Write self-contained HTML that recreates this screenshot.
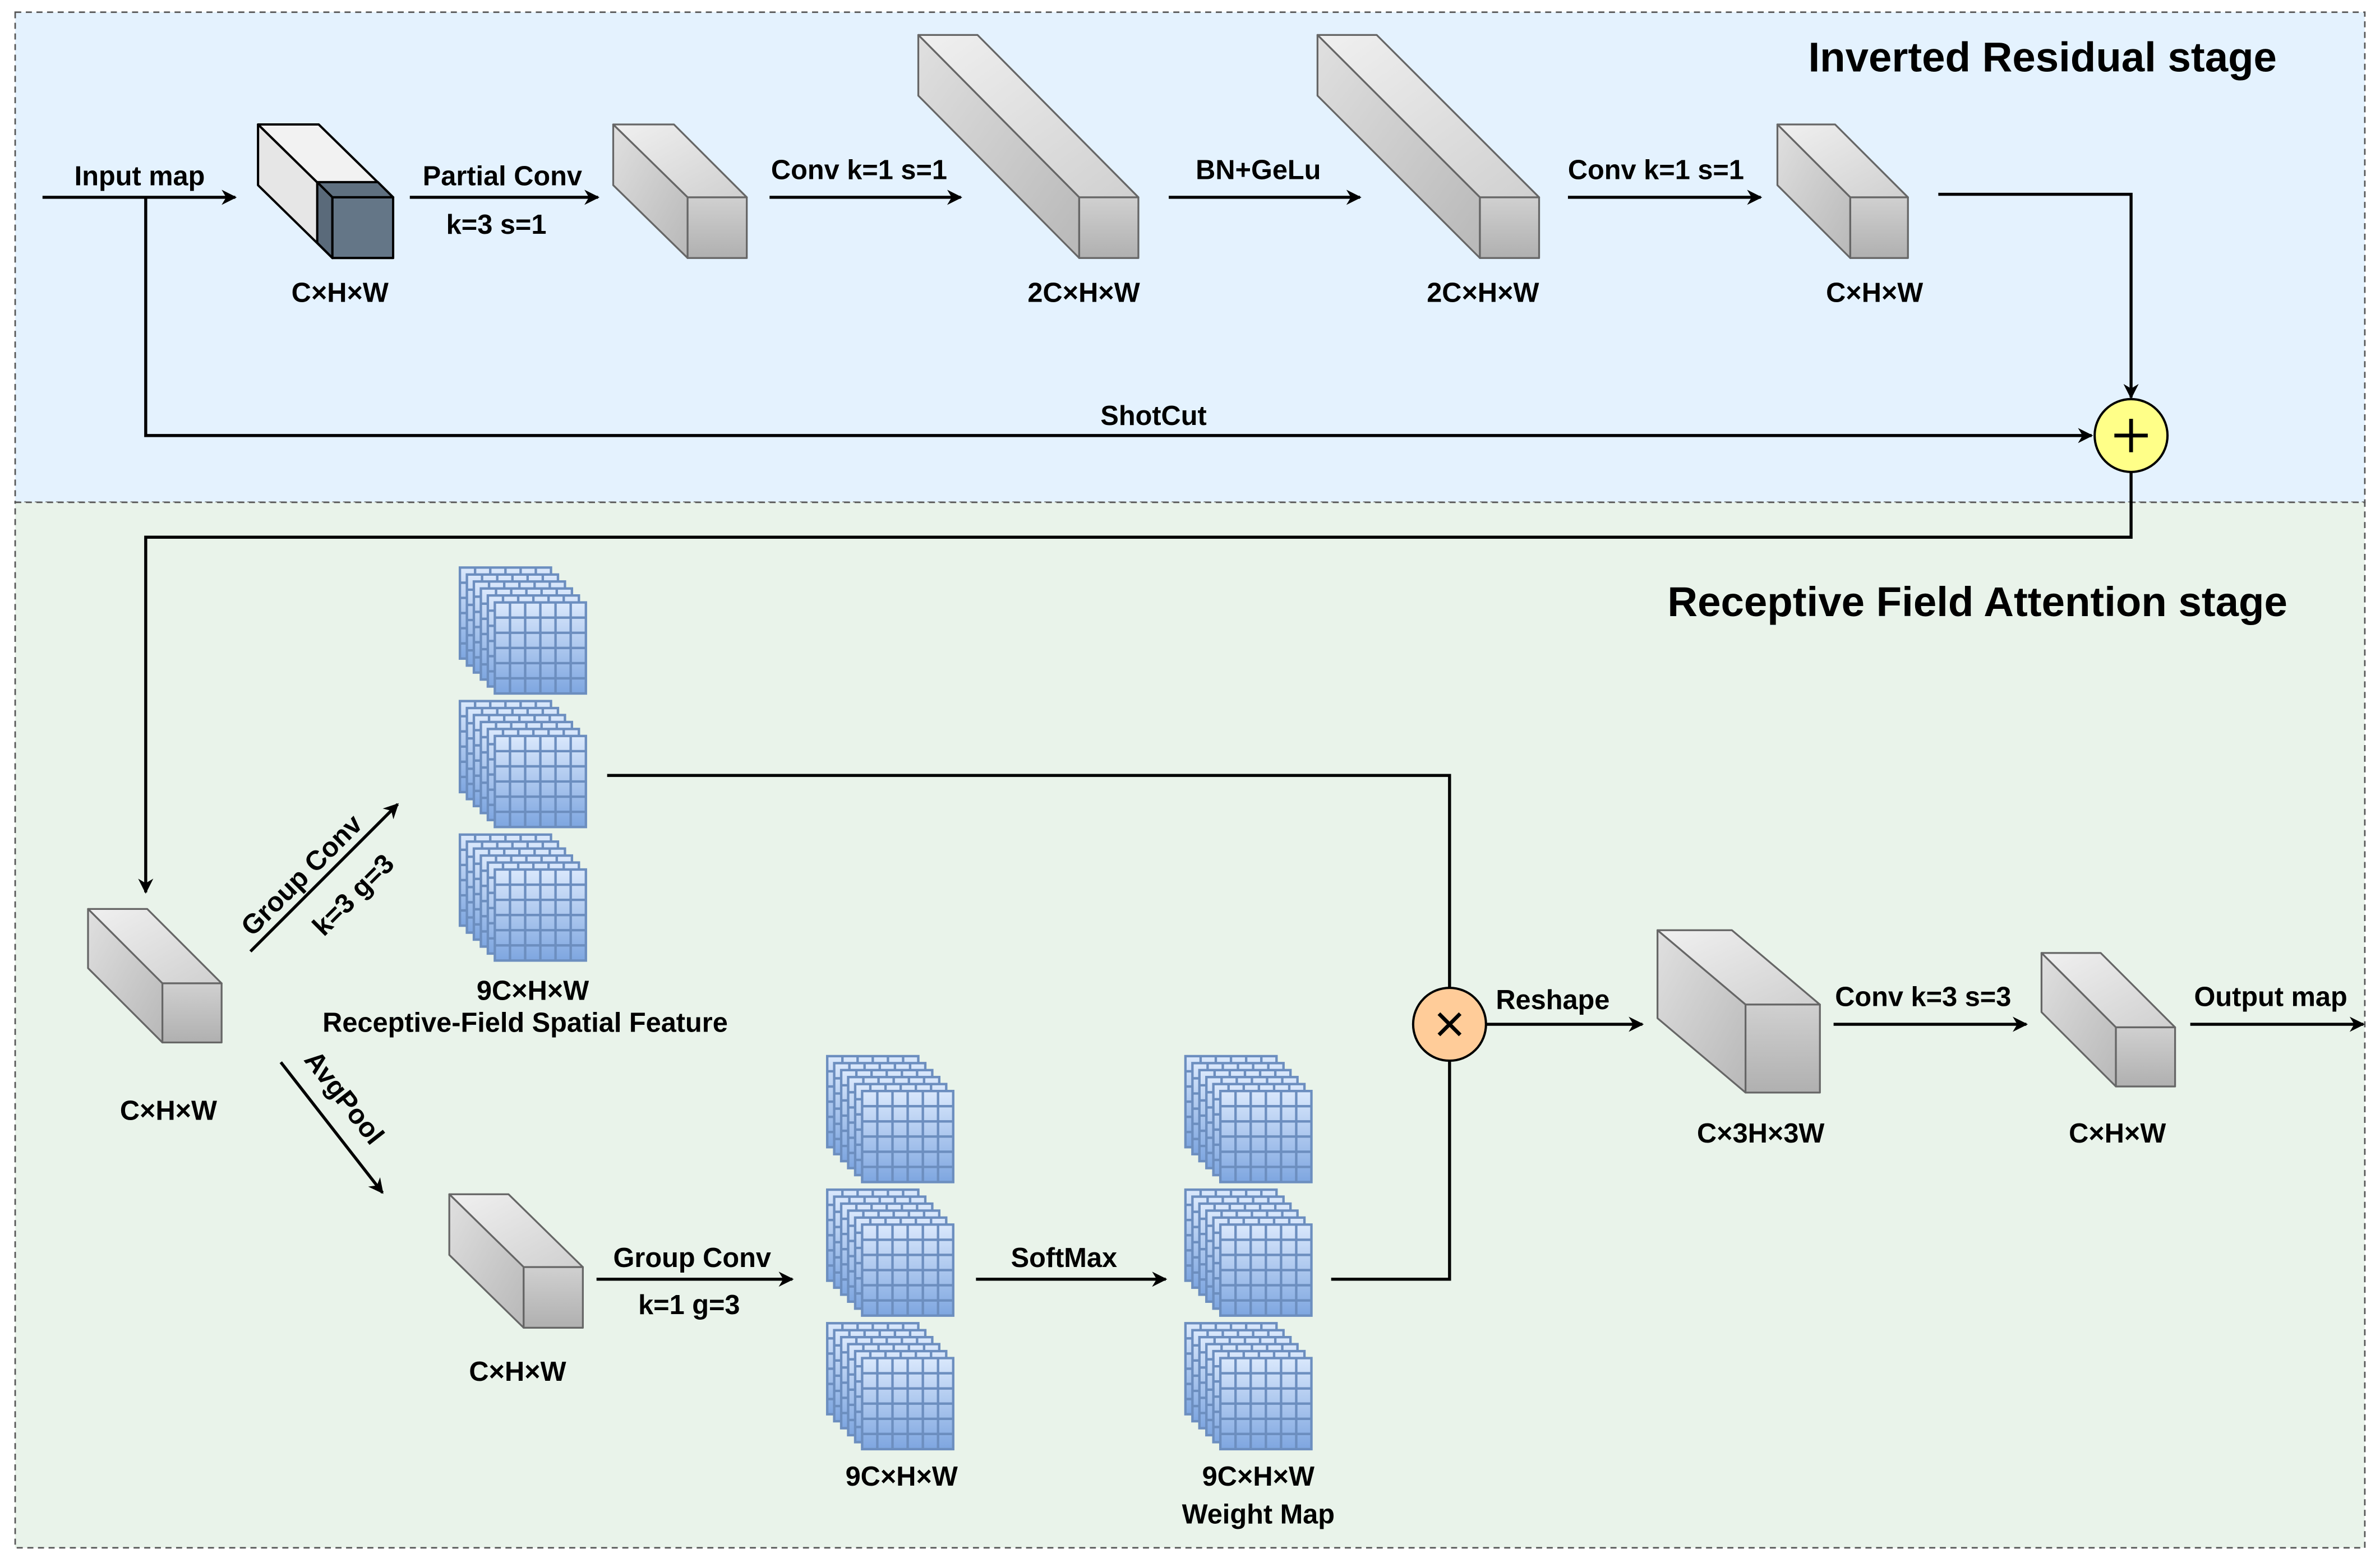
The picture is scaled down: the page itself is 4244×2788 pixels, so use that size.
<!DOCTYPE html>
<html><head><meta charset="utf-8"><style>html,body{margin:0;padding:0;background:#fff}svg{display:block}</style></head>
<body>
<svg xmlns="http://www.w3.org/2000/svg" width="4244" height="2788" viewBox="0 0 1568 1030">
<defs>
<marker id="a" viewBox="0 0 10 10" refX="9" refY="5" markerWidth="10" markerHeight="10" markerUnits="userSpaceOnUse" orient="auto"><path d="M0,0 L10,5 L0,10 L3,5 z" fill="#000"/></marker>
<linearGradient id="gb" x1="0" y1="0" x2="0" y2="1"><stop offset="0" stop-color="#dae8fc"/><stop offset="1" stop-color="#7ea6e0"/></linearGradient>
<linearGradient id="gt" x1="0" y1="0" x2="1" y2="1"><stop offset="0" stop-color="#f0f0f0"/><stop offset="1" stop-color="#d0d0d0"/></linearGradient>
<linearGradient id="gs" x1="0" y1="0" x2="1" y2="1"><stop offset="0" stop-color="#e0e0e0"/><stop offset="1" stop-color="#b8b8b8"/></linearGradient>
<linearGradient id="gf" x1="0" y1="0" x2="0" y2="1"><stop offset="0" stop-color="#d0d0d0"/><stop offset="1" stop-color="#b0b0b0"/></linearGradient>
<g id="L">
<rect x="0" y="0" width="60" height="60" fill="url(#gb)" stroke="#6c8ebf" stroke-width="1.6"/>
<path d="M10,0V60M20,0V60M30,0V60M40,0V60M50,0V60M0,10H60M0,20H60M0,30H60M0,40H60M0,50H60" stroke="#6c8ebf" stroke-width="1.6"/>
</g>
<g id="S">
<use href="#L" x="0" y="0"/><use href="#L" x="4.6" y="4.6"/><use href="#L" x="9.2" y="9.2"/><use href="#L" x="13.8" y="13.8"/><use href="#L" x="18.4" y="18.4"/><use href="#L" x="23" y="23"/>
</g>
</defs>
<rect x="10" y="8" width="1548" height="323" fill="#e4f2fe" stroke="#555" stroke-dasharray="4,3"/>
<rect x="10" y="331" width="1548" height="689" fill="#e9f3ea" stroke="#555" stroke-dasharray="4,3"/>
<g font-family="Liberation Sans, sans-serif" font-weight="bold" fill="#000">
<text x="1500" y="47" font-size="27.5" text-anchor="end">Inverted Residual stage</text>
<text x="1507" y="406" font-size="27.5" text-anchor="end">Receptive Field Attention stage</text>
</g>
<g stroke="#666" stroke-width="1.2" stroke-linejoin="round">
<g stroke="#000" stroke-width="1.5">
<polygon points="170,82 210,82 259,130 219,130" fill="#f2f2f2"/>
<polygon points="170,82 219,130 219,170 170,122" fill="#e6e6e6"/>
<polygon points="209,120 249,120 259,130 219,130" fill="#5f7080"/>
<polygon points="209,120 219,130 219,170 209,160" fill="#5a6a7a"/>
<rect x="219" y="130" width="40" height="40" fill="#647687"/>
</g>
<polygon points="404,82 444,82 492,130 453,130" fill="url(#gt)"/><polygon points="404,82 453,130 453,170 404,122" fill="url(#gs)"/><rect x="453" y="130" width="39" height="40" fill="url(#gf)"/>
<polygon points="605,23 644,23 750,130 711,130" fill="url(#gt)"/><polygon points="605,23 711,130 711,170 605,63" fill="url(#gs)"/><rect x="711" y="130" width="39" height="40" fill="url(#gf)"/>
<polygon points="868,23 907,23 1014,130 975,130" fill="url(#gt)"/><polygon points="868,23 975,130 975,170 868,63" fill="url(#gs)"/><rect x="975" y="130" width="39" height="40" fill="url(#gf)"/>
<polygon points="1171,82 1209,82 1257,130 1219,130" fill="url(#gt)"/><polygon points="1171,82 1219,130 1219,170 1171,122" fill="url(#gs)"/><rect x="1219" y="130" width="38" height="40" fill="url(#gf)"/>
<polygon points="58,599 97,599 146,648 107,648" fill="url(#gt)"/><polygon points="58,599 107,648 107,687 58,638" fill="url(#gs)"/><rect x="107" y="648" width="39" height="39" fill="url(#gf)"/>
<polygon points="296,787 335,787 384,835 345,835" fill="url(#gt)"/><polygon points="296,787 345,835 345,875 296,827" fill="url(#gs)"/><rect x="345" y="835" width="39" height="40" fill="url(#gf)"/>
<polygon points="1092,613 1141,613 1199,662 1150,662" fill="url(#gt)"/><polygon points="1092,613 1150,662 1150,720 1092,671" fill="url(#gs)"/><rect x="1150" y="662" width="49" height="58" fill="url(#gf)"/>
<polygon points="1345,628 1384,628 1433,677 1394,677" fill="url(#gt)"/><polygon points="1345,628 1394,677 1394,716 1345,667" fill="url(#gs)"/><rect x="1394" y="677" width="39" height="39" fill="url(#gf)"/>
</g>
<use href="#S" x="303" y="374"/><use href="#S" x="303" y="462"/><use href="#S" x="303" y="550"/>
<use href="#S" x="545" y="696"/><use href="#S" x="545" y="784"/><use href="#S" x="545" y="872"/>
<use href="#S" x="781" y="696"/><use href="#S" x="781" y="784"/><use href="#S" x="781" y="872"/>
<g stroke="#000" stroke-width="2" fill="none">
<path d="M28,130H155" marker-end="url(#a)"/>
<path d="M96,130V287H1378" marker-end="url(#a)"/>
<path d="M270,130H394" marker-end="url(#a)"/>
<path d="M507,130H633" marker-end="url(#a)"/>
<path d="M770,130H896" marker-end="url(#a)"/>
<path d="M1033,130H1160" marker-end="url(#a)"/>
<path d="M1277,128H1404V262" marker-end="url(#a)"/>
<path d="M1404,311V354H96V588" marker-end="url(#a)"/>
<path d="M165,627L262,530" marker-end="url(#a)"/>
<path d="M185,700L252,786" marker-end="url(#a)"/>
<path d="M400,511H955V651"/>
<path d="M393,843H522" marker-end="url(#a)"/>
<path d="M643,843H768" marker-end="url(#a)"/>
<path d="M877,843H955V699"/>
<path d="M979,675H1082" marker-end="url(#a)"/>
<path d="M1208,675H1335" marker-end="url(#a)"/>
<path d="M1443,675H1557" marker-end="url(#a)"/>
</g>
<circle cx="1404" cy="287" r="24" fill="#ffff88" stroke="#000" stroke-width="1.5"/>
<path d="M1393,287H1415M1404,276V298" stroke="#000" stroke-width="2.5"/>
<circle cx="955" cy="675" r="24" fill="#ffcc99" stroke="#000" stroke-width="1.5"/>
<path d="M948,668L962,682M962,668L948,682" stroke="#000" stroke-width="2.5"/>
<g font-family="Liberation Sans, sans-serif" font-weight="bold" font-size="18" fill="#000" text-anchor="middle">
<text x="92" y="122">Input map</text>
<text x="331" y="122">Partial Conv</text>
<text x="327" y="154">k=3 s=1</text>
<text x="566" y="118">Conv k=1 s=1</text>
<text x="829" y="118">BN+GeLu</text>
<text x="1091" y="118">Conv k=1 s=1</text>
<text x="224" y="199">C×H×W</text>
<text x="714" y="199">2C×H×W</text>
<text x="977" y="199">2C×H×W</text>
<text x="1235" y="199">C×H×W</text>
<text x="760" y="280">ShotCut</text>
<text x="111" y="738">C×H×W</text>
<text x="341" y="910">C×H×W</text>
<text x="351" y="659">9C×H×W</text>
<text x="346" y="680">Receptive-Field Spatial Feature</text>
<text x="456" y="835">Group Conv</text>
<text x="454" y="866">k=1 g=3</text>
<text x="701" y="835">SoftMax</text>
<text x="594" y="979">9C×H×W</text>
<text x="829" y="979">9C×H×W</text>
<text x="829" y="1004">Weight Map</text>
<text x="1023" y="665">Reshape</text>
<text x="1267" y="663">Conv k=3 s=3</text>
<text x="1496" y="663">Output map</text>
<text x="1160" y="753">C×3H×3W</text>
<text x="1395" y="753">C×H×W</text>
<text transform="translate(203,581) rotate(-45)">Group Conv</text>
<text transform="translate(237,594) rotate(-45)">k=3 g=3</text>
<text transform="translate(222,727) rotate(52)">AvgPool</text>
</g>
</svg>
</body></html>
